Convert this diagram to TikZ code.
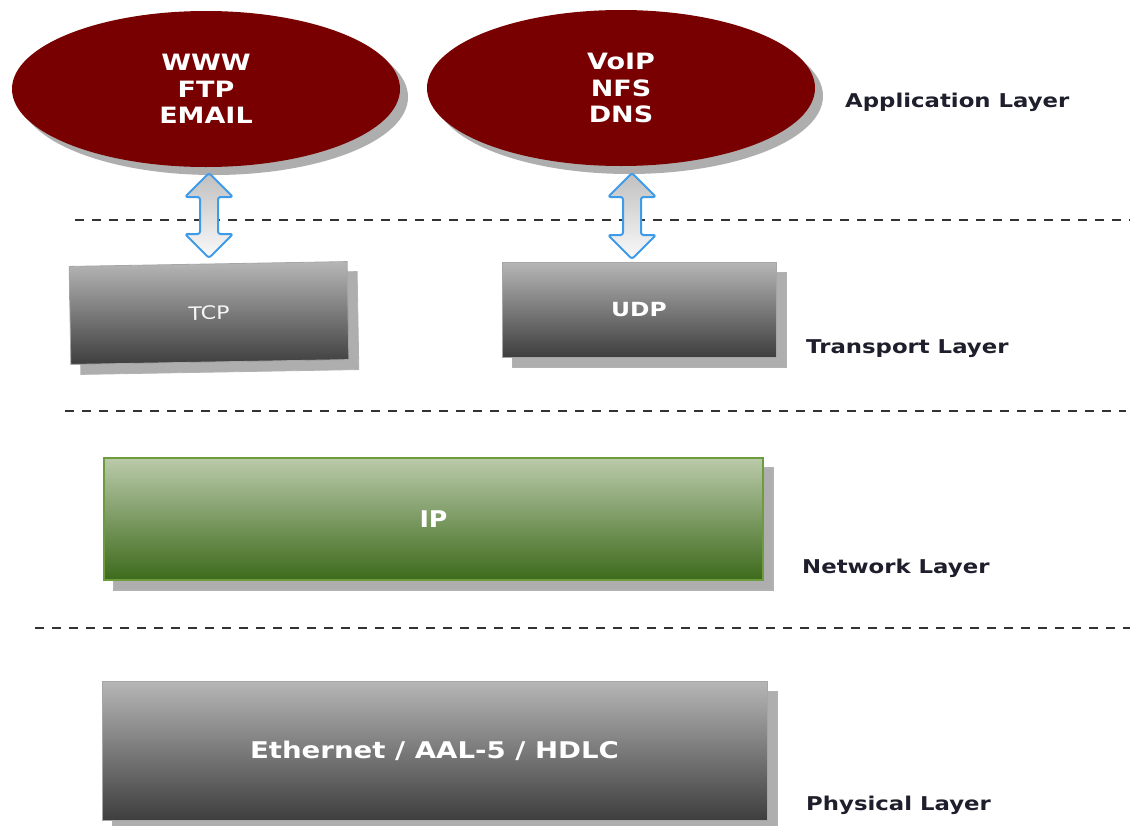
\documentclass[tikz,border=0pt]{standalone}
\usepackage{fontspec}
\usetikzlibrary{shapes.geometric,shadows}
\newfontfamily\dvs[FakeStretch=1.2]{DejaVu Sans}
\newfontfamily\dvsip[FakeStretch=1.1]{DejaVu Sans}
\definecolor{appred}{HTML}{780000}
\definecolor{shgray}{HTML}{AEAEAE}
\definecolor{labcol}{HTML}{1E1E2C}
\definecolor{arrblue}{HTML}{3D9BE9}
\definecolor{greytop}{HTML}{B6B6B6}
\definecolor{greybot}{HTML}{3E3E3E}
\definecolor{greentop}{HTML}{BACAAA}
\definecolor{greenbot}{HTML}{3D6A1B}
\definecolor{greenline}{HTML}{6C9C3C}
\definecolor{sepcol}{HTML}{333333}
\tikzset{
  appell/.style={ellipse, fill=appred, inner sep=0pt, minimum width=388pt, minimum height=156pt,
    text=white, align=center, font=\dvs\bfseries\fontsize{22.5}{26.5}\selectfont,
    drop shadow={shadow xshift=8pt, shadow yshift=-8pt, fill=shgray, opacity=1}},
  dblarr/.style={draw=arrblue, line width=2pt, rounded corners=2.5pt, line join=round,
    top color=gray!50, bottom color=white!96!gray},
  greybox/.style={rectangle, draw=gray!70, line width=0.8pt, top color=greytop, bottom color=greybot,
    inner sep=0pt, text=white,
    drop shadow={shadow xshift=10pt, shadow yshift=-10pt, fill=shgray, draw=gray!60, opacity=1}},
  greenbox/.style={rectangle, draw=greenline, line width=1.5pt, top color=greentop, bottom color=greenbot,
    inner sep=0pt, text=white,
    drop shadow={shadow xshift=10pt, shadow yshift=-10pt, fill=shgray, draw=gray!60, opacity=1}},
  layerlab/.style={anchor=base west, inner sep=0pt, text=labcol, font=\dvs\bfseries\fontsize{19}{22}\selectfont},
  sepline/.style={draw=sepcol, line width=2pt, dash pattern=on 9pt off 8pt}
}
\begin{document}
\begin{tikzpicture}[x=1pt,y=-1pt]
\useasboundingbox[fill=white] (0,0) rectangle (1130,825);

% application layer
\node[appell] (e1) at (206,89) {WWW\\FTP\\EMAIL};
\node[appell] (e2) at (621,88) {VoIP\\NFS\\DNS};
\node[layerlab] (lapp) at (845,107) {Application Layer};

% separators
\coordinate (d1a) at (75,220);  \coordinate (d1b) at (1130,220);
\coordinate (d2a) at (65,411);  \coordinate (d2b) at (1126,411);
\coordinate (d3a) at (35,628);  \coordinate (d3b) at (1130,628);
\draw[sepline] (d1a) -- (d1b);
\draw[sepline] (d2a) -- (d2b);
\draw[sepline] (d3a) -- (d3b);

% transport layer
\node[greybox, rotate=1, minimum width=278pt, minimum height=98pt,
      font=\dvs\fontsize{18.5}{20}\selectfont, text=white!92!gray] (tcp) at (209,313) {TCP};
\node[greybox, minimum width=274pt, minimum height=95pt,
      font=\dvs\bfseries\fontsize{19.5}{22}\selectfont] (udp) at (639,309.5) {UDP};
\node[layerlab] (ltr) at (806,353) {Transport Layer};

% double arrows (between the ellipses and the transport boxes)
\coordinate (a1t) at (209,173); \coordinate (a1b) at (209,258);
\coordinate (a2t) at (632,173); \coordinate (a2b) at (632,259);
\draw[dblarr] (a1t) -- ++(24,24) -- ++(-15,0) -- ++(0,37) -- ++(15,0) -- (a1b)
  -- ++(-24,-24) -- ++(15,0) -- ++(0,-37) -- ++(-15,0) -- cycle;
\draw[dblarr] (a2t) -- ++(24,24) -- ++(-15,0) -- ++(0,38) -- ++(15,0) -- (a2b)
  -- ++(-24,-24) -- ++(15,0) -- ++(0,-38) -- ++(-15,0) -- cycle;

% network layer
\node[greenbox, minimum width=659pt, minimum height=122pt,
      font=\dvsip\bfseries\fontsize{23}{26}\selectfont] (ip) at (433.5,519) {IP};
\node[layerlab] (lnet) at (802,573) {Network Layer};

% physical layer
\node[greybox, minimum width=665pt, minimum height=139pt,
      font=\dvs\bfseries\fontsize{23}{26}\selectfont] (eth) at (434.5,750.5) {Ethernet / AAL-5 / HDLC};
\node[layerlab] (lphy) at (806,810) {Physical Layer};
\end{tikzpicture}
\end{document}
